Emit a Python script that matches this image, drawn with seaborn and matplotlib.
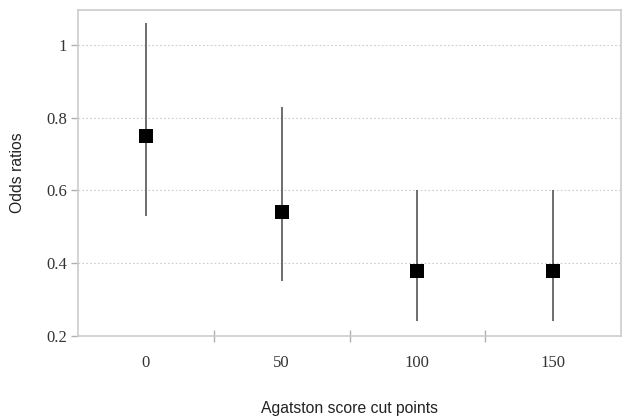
"""
Odds ratios with confidence intervals for each Agatston score cut point.
"""

import pandas as pd
import seaborn as sns
import matplotlib.pyplot as plt

# Values
cut_points = ['0', '50', '100', '150']
odds_ratios = [0.75, 0.54, 0.38, 0.38]
ci_lower = [0.53, 0.35, 0.24, 0.24]
ci_upper = [1.06, 0.83, 0.60, 0.60]

df = pd.DataFrame({'cut': cut_points, 'or': odds_ratios,
                   'lo': ci_lower, 'hi': ci_upper})
df['pos'] = range(len(df))

sns.set_style('white')

fig = plt.figure(figsize=(6.23, 4.18), dpi=100)
ax = fig.add_axes([78 / 623, 1 - 336 / 418, (621 - 78) / 623, (336 - 10) / 418])

# Confidence interval lines
ax.vlines(df['pos'], df['lo'], df['hi'], color='#555555', linewidth=1.2, zorder=2)

# Point estimates as black squares
sns.scatterplot(data=df, x='pos', y='or', marker='s', s=110, color='black',
                edgecolor='black', linewidth=0, ax=ax, zorder=3, legend=False)

ax.set_xlim(-0.5, 3.5)
ax.set_ylim(0.2, 1.096)
ax.set_yticks([0.2, 0.4, 0.6, 0.8, 1.0])
ax.set_yticklabels(['0.2', '0.4', '0.6', '0.8', '1'])
ax.set_xticks(df['pos'])
ax.set_xticklabels(df['cut'])
ax.set_xticks([0.5, 1.5, 2.5], minor=True)

# Dotted horizontal gridlines
ax.yaxis.grid(True, linestyle=(0, (1.5, 2)), color='#cccccc', linewidth=0.8)
ax.set_axisbelow(True)

for spine in ax.spines.values():
    spine.set_color('#cccccc')
    spine.set_linewidth(1.2)

ax.tick_params(axis='x', which='major', length=0, pad=14)
ax.tick_params(axis='x', which='minor', bottom=True, length=8,
               direction='inout', color='#b0b0b0', width=1)
ax.tick_params(axis='y', which='major', left=True, length=5,
               direction='out', color='#b0b0b0', width=1, pad=3)

for lbl in ax.get_xticklabels() + ax.get_yticklabels():
    lbl.set_family('Liberation Serif')
    lbl.set_fontsize(12)
    lbl.set_color('#333333')

ax.set_xlabel('Agatston score cut points', family='Liberation Sans',
              fontsize=11.3, color='#222222', labelpad=21)
ax.set_ylabel('Odds ratios', family='Liberation Sans',
              fontsize=11.3, color='#222222', labelpad=15)

fig.savefig('out.png', dpi=100)
